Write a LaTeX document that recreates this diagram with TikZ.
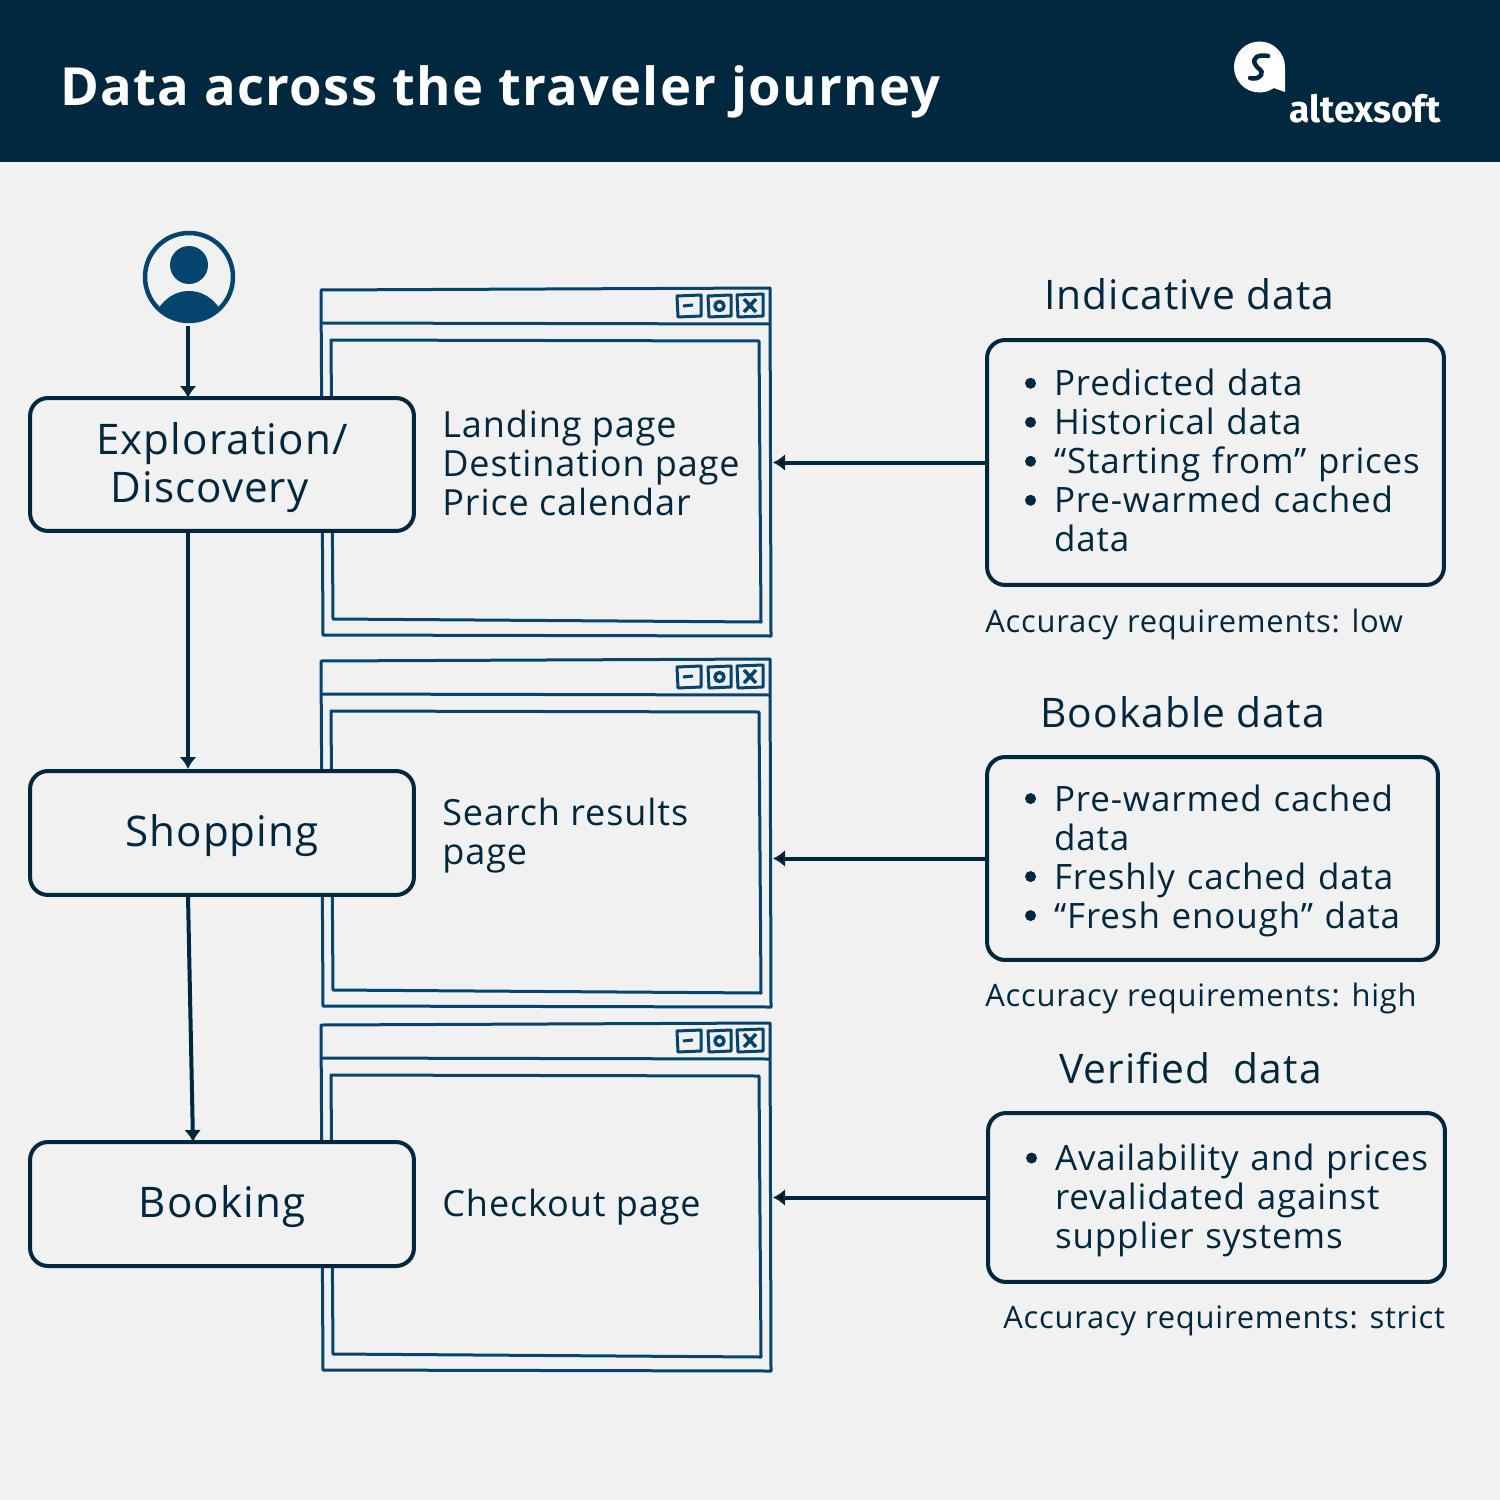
\documentclass[tikz,border=0pt]{standalone}
\usepackage{fontspec}
\setmainfont[LetterSpace=2.5]{Open Sans}
\newfontfamily\logofont{Fira Sans}
\usetikzlibrary{arrows.meta}
\definecolor{navy}{HTML}{01283F}
\definecolor{winblue}{HTML}{04446E}
\definecolor{paper}{HTML}{F1F1F1}
\newcommand{\bul}{\hspace*{0.76cm}\makebox[0.58cm][l]{\raisebox{0.14cm}{\tikz\fill [navy] (0,0) circle (0.11cm);}}}
\newcommand{\cont}{\hspace*{1.34cm}}
\newcommand{\lift}{\rule{0pt}{0.76cm}}
\tikzset{
  stagebox/.style={draw=navy,line width=0.08cm,rounded corners=0.36cm,fill=paper,text=navy,
    minimum width=7.68cm,align=center,font=\fontsize{24}{27.3}\selectfont},
  databox/.style={draw=navy,line width=0.08cm,rounded corners=0.36cm,text=navy,align=left,
    inner sep=0pt,font=\fontsize{19.9}{22.2}\selectfont},
  pagetext/.style={anchor=west,inner sep=0pt,text=navy,align=left,font=\fontsize{20.5}{22.2}\selectfont},
  headtext/.style={anchor=west,inner sep=0pt,text=navy,font=\fontsize{23.2}{27}\selectfont},
  accuracy/.style={anchor=west,inner sep=0pt,text=navy,font=\fontsize{17.6}{22}\selectfont},
  winline/.style={draw=winblue,line width=0.06cm,line join=round},
  flow/.style={draw=navy,line width=0.08cm,-{Latex[length=0.24cm,width=0.34cm]}}
}
\begin{document}
\begin{tikzpicture}[x=0.02cm,y=-0.02cm]
\useasboundingbox (0,0) rectangle (1500,1500);
\fill [paper] (0,0) rectangle (1500,1500);
\fill [navy] (0,0) rectangle (1500,162);
\node [anchor=west,inner sep=0pt,text=white] (title) at (60,91.5)
  {\fontsize{29.9}{32}\selectfont\bfseries Data across the traveler journey};
% logo
\fill [white] (1259.5,67) circle (25.5);
\fill [white] (1285,67) -- (1285,92) -- (1268,86) -- cycle;
\draw [navy,line width=0.09cm,line cap=round] (1268,56) .. controls (1258,54) and (1252,58) .. (1255,64)
  .. controls (1257,69) and (1264,70) .. (1261,75) .. controls (1258,79) and (1254,79) .. (1250,78);
\node [anchor=west,inner sep=0pt,text=white] (brand) at (1289,109)
  {\logofont\fontsize{21.2}{24}\selectfont\bfseries altexsoft};
% browser windows
\foreach \n/\dy in {1/0,2/371,3/735} {
\begin{scope}[shift={(0,\dy)}]
\draw [winline] (321,290) -- (770,288) -- (771,636) -- (323,635) -- cycle;
\draw [winline] (321,323) -- (770,324);
\draw [winline] (331,340) -- (759,341) -- (761,622) -- (333,619) -- cycle;
\draw [winline] (677,296) -- (701,295) -- (701,316) -- (678,317) -- cycle;
\draw [winline] (683,306) -- (693,305);
\draw [winline] (708,296) -- (731,295) -- (731,316) -- (709,317) -- cycle;
\draw [winline,line width=0.07cm] (719.5,306) circle (4.5);
\draw [winline] (737,295) -- (763,294) -- (763,316) -- (738,317) -- cycle;
\draw [winline,line width=0.07cm] (744,299) -- (756,312) (756,299) -- (744,312);
\coordinate (win\n) at (773,462);
\end{scope}
}
\node [pagetext] (page1) at (442,463) {Landing page\\Destination page\\Price calendar};
\node [pagetext] (page2) at (442,836) {Search results\\page};
\node [pagetext] (page3) at (442,1207) {Checkout page};
% stages
\node [stagebox,minimum height=2.66cm] (explore) at (222,464.5) {\lift Exploration/\\Discovery\hspace*{0.5cm}};
\node [stagebox,minimum height=2.48cm] (shop) at (222,833) {\lift Shopping};
\node [stagebox,minimum height=2.48cm] (book) at (222,1204) {\lift Booking};
% user
\node [circle,draw=winblue,line width=0.09cm,minimum size=1.76cm,inner sep=0pt] (user) at (189,277) {};
\fill [winblue] (189,265) circle (19);
\begin{scope}
\clip (189,277) circle (44);
\fill [winblue] (158,309) .. controls (166,297) and (177,291) .. (189,291)
  .. controls (201,291) and (212,297) .. (220,309) -- (225,330) -- (150,330) -- cycle;
\end{scope}
\coordinate (bookin) at (193,1142);
\coordinate (shopout) at (188,896);
\draw [flow] (188,326) -- (188,398);
\draw [flow] (explore.south -| shopout) -- (shop.north -| shopout);
\draw [flow] (shopout) -- (bookin);
% data
\node [headtext] (head1) at (1044,294) {Indicative data};
\node [databox,text width=9.14cm,minimum height=4.9cm] (indic) at (1215.5,462.5)
  {\bul Predicted data\\\bul Historical data\\\bul “Starting from” prices\\\bul Pre-warmed cached\\\cont data\rule[-0.08cm]{0pt}{0pt}};
\node [accuracy] (acc1) at (985,624) {Accuracy requirements: low};
\node [headtext] (head2) at (1040,712) {Bookable data};
\node [databox,text width=9.02cm,minimum height=4.06cm] (bookable) at (1212.5,858.5)
  {\rule{0pt}{0.61cm}\bul Pre-warmed cached\\\cont data\\\bul Freshly cached data\\\bul “Fresh enough” data};
\node [accuracy] (acc2) at (985,998) {Accuracy requirements: high};
\node [headtext] (head3) at (1059,1068) {Verified\ \ data};
\node [databox,text width=9.14cm,minimum height=3.38cm] (verified) at (1216.5,1197.5)
  {\rule{0pt}{0.65cm}\bul Availability and prices\\\cont revalidated against\\\cont supplier systems};
\node [accuracy] (acc3) at (1003,1321) {Accuracy requirements: strict};
\draw [flow] (indic) -- (indic -| win1);
\draw [flow] (bookable) -- (bookable -| win2);
\draw [flow] (verified) -- (verified -| win3);
\end{tikzpicture}
\end{document}
